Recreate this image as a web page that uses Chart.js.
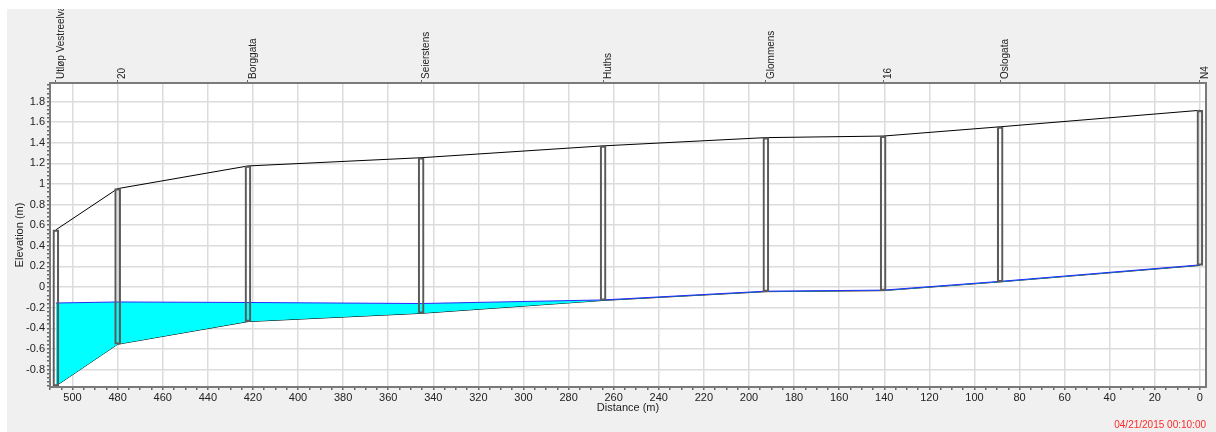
<!DOCTYPE html>
<html>
<head>
<meta charset="utf-8">
<script src="https://cdn.jsdelivr.net/npm/chart.js@4/dist/chart.umd.min.js"></script>
<style>
  html, body { margin: 0; padding: 0; background: #fff; }
  #bg { position: absolute; left: 7px; top: 9px; width: 1209px; height: 423px; background: #f0f0f0; }
  #wrap { position: absolute; left: 0; top: 0; width: 1216px; height: 432px; }
</style>
</head>
<body>
<div id="bg"></div>
<div id="wrap"><canvas id="profile"></canvas></div>
<script>
/* --- Data: profil langs ledningen --- */
const nodeNames = ['Utløp Vestreelva', '20', 'Borggata', 'Seierstens', 'Huths', 'Glommens', '16', 'Oslogata', 'N4'];
const nodeDist  = [507.4, 480, 422.2, 345.4, 264.7, 192.5, 140.5, 88.6, 0];
const rimElev   = [0.555, 0.955, 1.175, 1.255, 1.37, 1.45, 1.465, 1.555, 1.715];
const invertElev = [-0.96, -0.555, -0.335, -0.255, -0.13, -0.045, -0.035, 0.05, 0.21];
const waterElev = [-0.155, -0.145, -0.15, -0.16, -0.125, -0.04, -0.03, 0.055, 0.215];

const xMajor = [0, 20, 40, 60, 80, 100, 120, 140, 160, 180, 200, 220, 240, 260, 280, 300, 320, 340, 360, 380, 400, 420, 440, 460, 480, 500];
const yMajor = [-0.8, -0.6, -0.4, -0.2, 0, 0.2, 0.4, 0.6, 0.8, 1, 1.2, 1.4, 1.6, 1.8];
const timeLabel = '04/21/2015 00:10:00';

const X_MIN = -2.7, X_MAX = 510;
const Y_MIN = -0.97, Y_MAX = 1.98;

// minor ticks: 5 m and 0.04 m
const xMinor = [];
for (let v = 0; v <= 510; v += 5) xMinor.push(v);
const yMinor = [];
for (let k = -24; k <= 49; k++) yMinor.push(+(k * 0.04).toFixed(2));

const isXMajor = v => xMajor.includes(v);
const isYMajor = v => yMajor.some(m => Math.abs(m - v) < 1e-6);

const FONT = { family: '"Liberation Sans", Arial, sans-serif', size: 11 };
const FONT_SMALL = { family: '"Liberation Sans", Arial, sans-serif', size: 10 };

/* --- Bakgrunn og ramme --- */
const framePlugin = {
  id: 'frame',
  beforeDraw(chart) {
    const { ctx, chartArea: a } = chart;
    ctx.save();
    ctx.fillStyle = '#ffffff';
    ctx.fillRect(a.left, a.top, a.right - a.left, a.bottom - a.top);
    ctx.restore();
  },
  afterDraw(chart) {
    const { ctx, chartArea: a } = chart;
    ctx.save();
    ctx.strokeStyle = '#7a7a7a';
    ctx.lineWidth = 2;
    ctx.strokeRect(a.left, a.top, a.right - a.left, a.bottom - a.top);
    ctx.restore();
  }
};

const pts = ys => nodeDist.map((x, i) => ({ x, y: ys[i] }));

new Chart(document.getElementById('profile'), {
  type: 'line',
  data: {
    datasets: [
      {
        type: 'bar',
        label: 'Kummer',
        data: nodeDist.map((x, i) => ({ x, y: [invertElev[i], rimElev[i]] })),
        backgroundColor: 'rgba(0,0,0,0)',
        borderColor: '#5a5a5a',
        borderWidth: 1.5,
        borderSkipped: false,
        barThickness: 6,
        grouped: false,
        order: 0
      },
      {
        label: 'Terreng',
        data: pts(rimElev),
        borderColor: '#000000',
        borderWidth: 1,
        pointRadius: 0,
        tension: 0,
        order: 1
      },
      {
        label: 'Bunn',
        data: pts(invertElev),
        borderColor: '#000000',
        borderWidth: 1,
        pointRadius: 0,
        tension: 0,
        order: 3
      },
      {
        label: 'Vannstand',
        data: pts(waterElev),
        borderColor: '#2a2aff',
        borderWidth: 1,
        backgroundColor: '#00ffff',
        fill: 2,
        pointRadius: 0,
        tension: 0,
        order: 2
      }
    ]
  },
  options: {
    responsive: true,
    maintainAspectRatio: false,
    animation: false,
    layout: { padding: { left: 7, right: 10, top: 9, bottom: 0 } },
    plugins: {
      legend: { display: false },
      tooltip: { enabled: false },
      subtitle: {
        display: true,
        text: timeLabel,
        position: 'bottom',
        align: 'end',
        color: '#ff2a2a',
        font: FONT_SMALL,
        padding: { top: 2, bottom: 1 }
      }
    },
    scales: {
      x: {
        type: 'linear',
        position: 'bottom',
        reverse: true,
        min: X_MIN,
        max: X_MAX,
        offset: false,
        afterBuildTicks: s => { s.ticks = xMinor.map(v => ({ value: v })); },
        afterFit: s => { s.height = 30; },
        ticks: {
          autoSkip: false,
          maxRotation: 0,
          padding: 1,
          color: '#222',
          font: FONT,
          callback: v => isXMajor(v) ? String(v) : ''
        },
        grid: {
          color: c => isXMajor(c.tick && c.tick.value) ? '#dcdcdc' : 'rgba(0,0,0,0)',
          lineWidth: 1.5,
          tickColor: '#666',
          tickLength: 3,
          offset: false
        },
        border: { display: false },
        title: {
          display: true,
          text: 'Distance (m)',
          color: '#222',
          font: FONT,
          padding: { top: 0, bottom: 2 }
        }
      },
      xTop: {
        type: 'linear',
        position: 'top',
        reverse: true,
        min: X_MIN,
        max: X_MAX,
        offset: false,
        afterBuildTicks: s => { s.ticks = nodeDist.map(v => ({ value: v })); },
        afterFit: s => { s.height = 74; },
        ticks: {
          autoSkip: false,
          minRotation: 90,
          maxRotation: 90,
          padding: 1,
          labelOffset: 17,
          color: '#222',
          font: FONT_SMALL,
          callback: (v, i) => nodeNames[i]
        },
        grid: { drawOnChartArea: false, tickColor: '#666', tickLength: 3 },
        border: { display: false }
      },
      y: {
        type: 'linear',
        min: Y_MIN,
        max: Y_MAX,
        afterBuildTicks: s => { s.ticks = yMinor.map(v => ({ value: v })); },
        afterFit: s => { s.width = 43; },
        ticks: {
          autoSkip: false,
          padding: 2,
          color: '#222',
          font: FONT,
          callback: v => isYMajor(v) ? String(+v.toFixed(1)) : ''
        },
        grid: {
          color: c => isYMajor(c.tick ? c.tick.value : NaN) ? '#dcdcdc' : 'rgba(0,0,0,0)',
          lineWidth: 1.5,
          tickColor: '#666',
          tickLength: 3
        },
        border: { display: false },
        title: {
          display: true,
          text: 'Elevation (m)',
          color: '#222',
          font: FONT,
          padding: { top: 6, bottom: 0 }
        }
      }
    }
  },
  plugins: [framePlugin]
});
</script>
</body>
</html>
